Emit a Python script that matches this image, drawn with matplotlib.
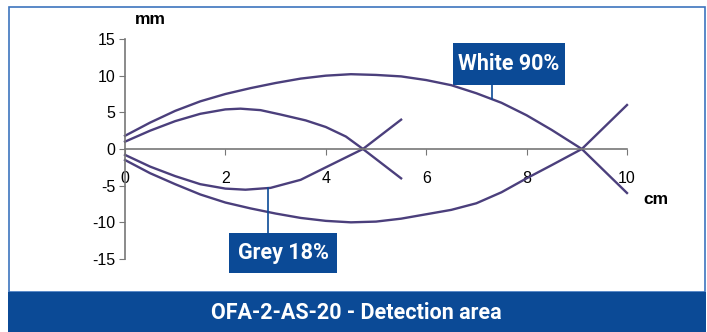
import matplotlib.pyplot as plt
from matplotlib.patches import Rectangle

plt.rcParams["axes.unicode_minus"] = False

# curve data (cm, mm)
white_up_x = [0, 0.5, 1, 1.5, 2, 2.5, 3, 3.5, 4, 4.5, 5, 5.5, 6, 6.5, 7, 7.5, 8, 8.5, 9.1, 10]
white_up_y = [1.8, 3.6, 5.2, 6.5, 7.5, 8.3, 9.0, 9.6, 10.0, 10.2, 10.1, 9.9, 9.4, 8.7, 7.6, 6.3, 4.6, 2.6, 0, -6]
white_lo_x = [0, 0.5, 1, 1.5, 2, 2.5, 3, 3.5, 4, 4.5, 5, 5.5, 6, 6.5, 7, 7.5, 8, 8.5, 9.1, 10]
white_lo_y = [-1.5, -3.3, -4.8, -6.2, -7.3, -8.1, -8.8, -9.4, -9.8, -10.0, -9.9, -9.5, -8.9, -8.3, -7.4, -5.9, -4.0, -2.2, 0, 6]
grey_up_x = [0, 0.5, 1, 1.5, 2, 2.3, 2.7, 3.1, 3.6, 4.0, 4.4, 4.74, 5.5]
grey_up_y = [1.0, 2.5, 3.8, 4.8, 5.4, 5.5, 5.3, 4.7, 3.9, 3.0, 1.7, 0, -4]
grey_lo_x = [0, 0.5, 1, 1.5, 2, 2.4, 2.9, 3.5, 4.0, 4.74, 5.5]
grey_lo_y = [-0.8, -2.4, -3.7, -4.8, -5.4, -5.55, -5.3, -4.2, -2.5, 0, 4]

xticks = [0, 2, 4, 6, 8, 10]
yticks = [-15, -10, -5, 0, 5, 10, 15]
title = "OFA-2-AS-20 - Detection area"

W, H = 707, 332
blue = "#0b4a96"
line_col = "#4b3f7c"

fig = plt.figure(figsize=(W / 100, H / 100), dpi=100)
fig.patch.set_facecolor("white")

# outer frame and title bar
fig.patches.append(Rectangle((9 / W, 1 - 292 / H), 696 / W, 285 / H, transform=fig.transFigure,
                             fill=False, edgecolor="#3d74bd", lw=1.2))
fig.patches.append(Rectangle((8 / W, 0), 698 / W, 40 / H, transform=fig.transFigure,
                             facecolor=blue, edgecolor="none"))
fig.text(356 / W, 1 - 313 / H, title, color="white", fontsize=15.5, fontweight="bold",
         family="Roboto", ha="center", va="center")

ax = fig.add_axes([125 / W, 1 - 259 / H, 502 / W, 220 / H])
ax.set_xlim(0, 10)
ax.set_ylim(-15, 15)
ax.set_facecolor("none")

for xs, ys in [(white_up_x, white_up_y), (white_lo_x, white_lo_y),
               (grey_up_x, grey_up_y), (grey_lo_x, grey_lo_y)]:
    ax.plot(xs, ys, color=line_col, lw=1.7, clip_on=False, solid_joinstyle="round")

for s in ["top", "right"]:
    ax.spines[s].set_visible(False)
ax.spines["bottom"].set_position(("data", 0))
for s in ["bottom", "left"]:
    ax.spines[s].set_color("#777777")
    ax.spines[s].set_linewidth(1.2)

ax.set_xticks(xticks)
ax.set_yticks(yticks)
ax.tick_params(axis="x", direction="out", length=4, color="#777777", pad=12, labelsize=11.5)
ax.tick_params(axis="y", direction="out", length=4, color="#777777", pad=3, labelsize=11.5)
for lab in ax.get_xticklabels() + ax.get_yticklabels():
    lab.set_family("Liberation Sans")

fig.text(150 / W, 1 - 20 / H, "mm", fontsize=12.5, fontweight="bold", family="Liberation Sans",
         ha="center", va="center")
fig.text(656 / W, 1 - 199 / H, "cm", fontsize=12.5, fontweight="bold", family="Liberation Sans",
         ha="center", va="center")

# callouts: box corners in data units
ax.plot([7.31, 7.31], [6.8, 8.8], color=blue, lw=1.2)
ax.add_patch(Rectangle((6.53, 8.73), 2.23, 5.73, facecolor=blue, edgecolor="none", clip_on=False))
ax.text(7.65, 11.6, "White 90%", color="white", fontsize=15.5, fontweight="bold", family="Roboto",
        ha="center", va="center")
ax.plot([2.85, 2.85], [-5.3, -11.5], color=blue, lw=1.2)
ax.add_patch(Rectangle((2.07, -16.9), 2.15, 5.44, facecolor=blue, edgecolor="none", clip_on=False))
ax.text(3.15, -14.2, "Grey 18%", color="white", fontsize=15.5, fontweight="bold", family="Roboto",
        ha="center", va="center", clip_on=False)

fig.savefig("out.png", dpi=100)
